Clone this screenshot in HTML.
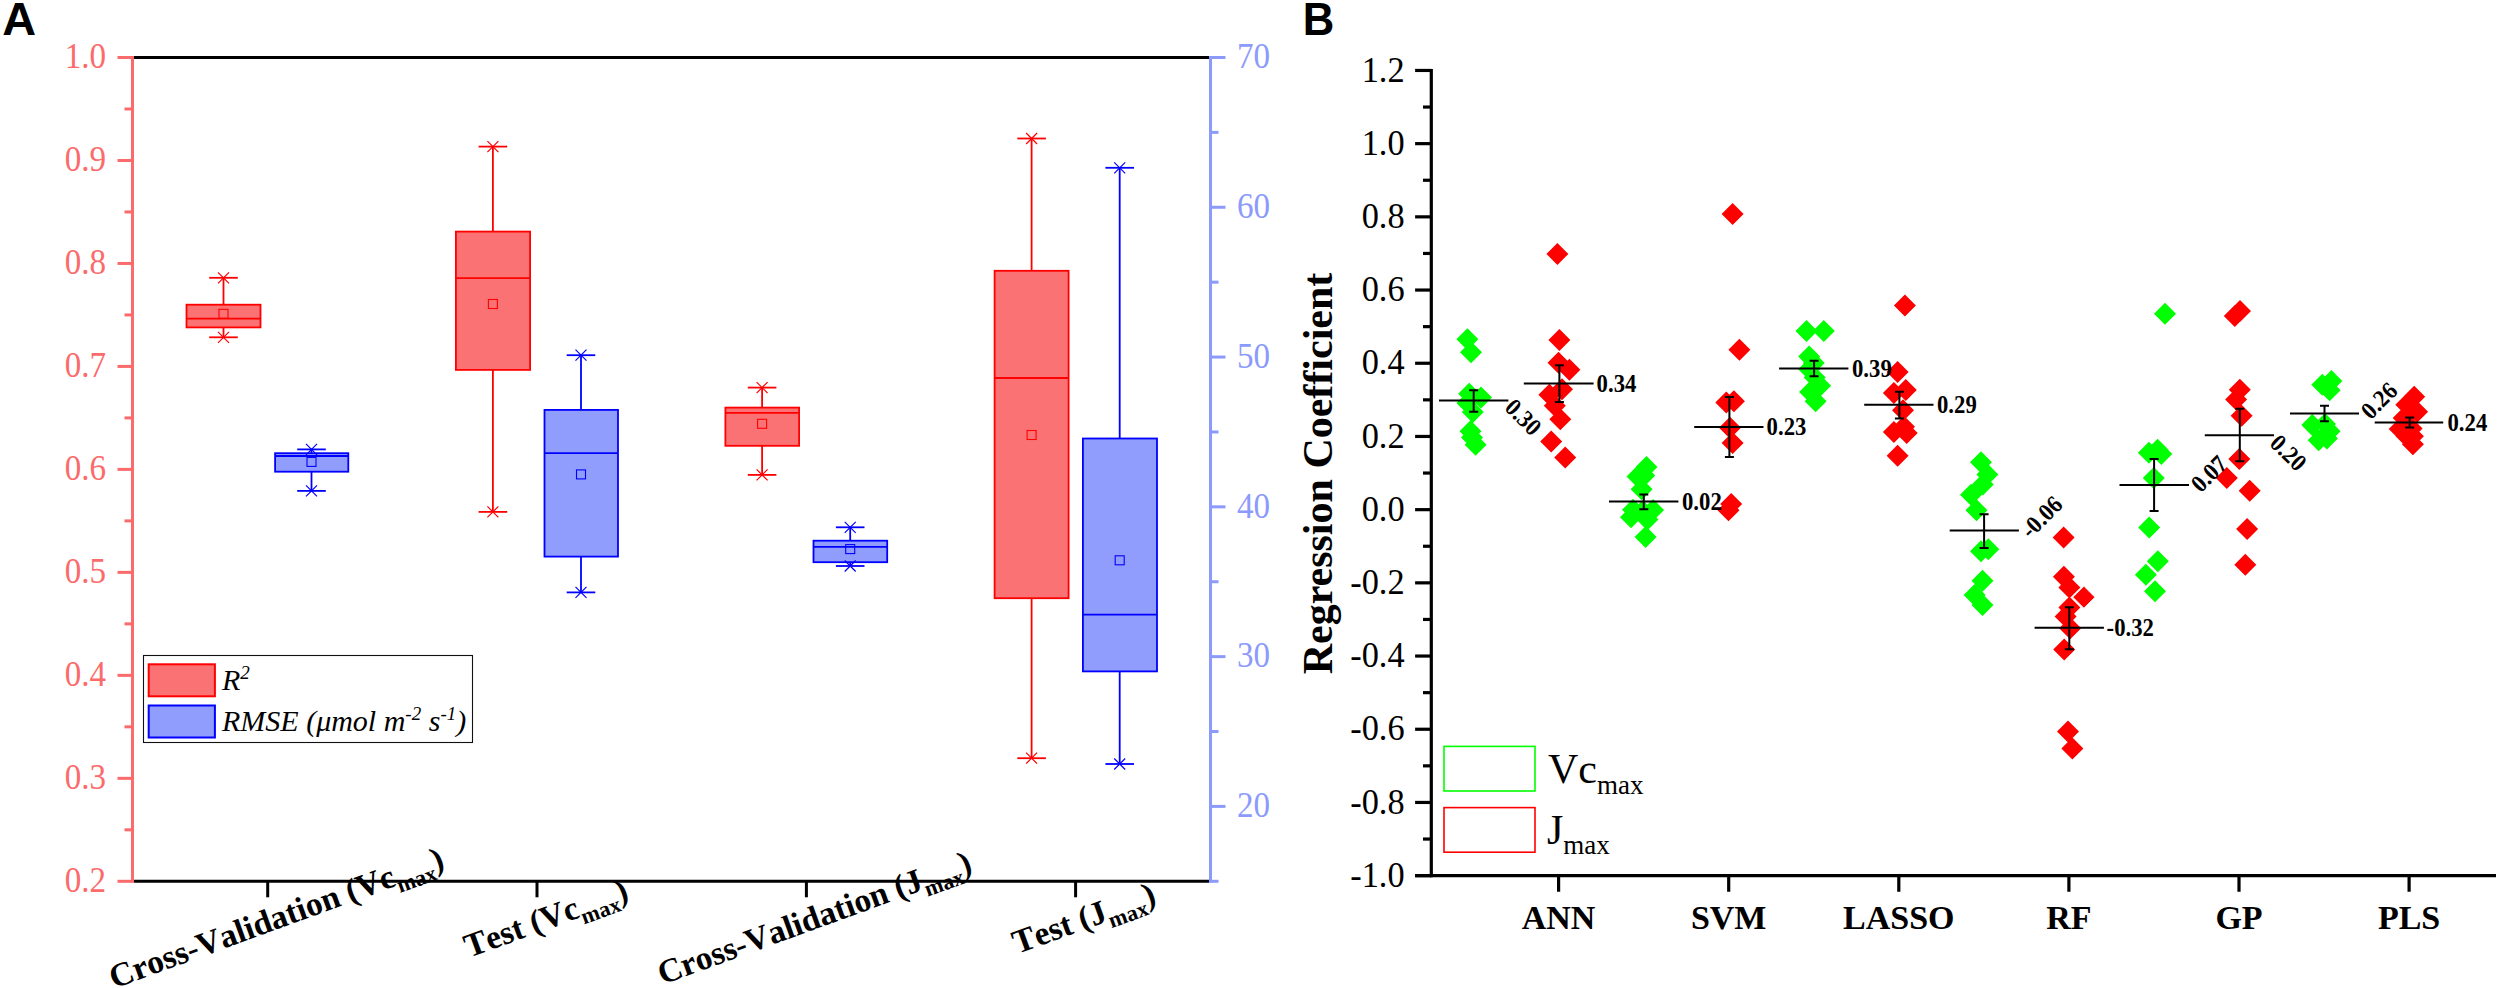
<!DOCTYPE html>
<html lang="en"><head><meta charset="utf-8"><title>Figure</title>
<style>html,body{margin:0;padding:0;background:#fff}svg{display:block}text{font-family:'Liberation Serif','Times New Roman',serif}.b{font-weight:bold}.i{font-style:italic}.sans{font-family:'Liberation Sans',Arial,sans-serif;font-weight:bold}</style></head><body>
<svg width="2500" height="988" viewBox="0 0 2500 988">
<rect width="2500" height="988" fill="#fff"/>
<text class="sans" transform="translate(2.2 34.9) scale(1.03 1)" font-size="45.5">A</text>
<line x1="134" y1="57.5" x2="1209" y2="57.5" stroke="#000" stroke-width="3"/>
<line x1="134" y1="881.3" x2="1209" y2="881.3" stroke="#000" stroke-width="3"/>
<line x1="267.7" y1="881.3" x2="267.7" y2="897.3" stroke="#000" stroke-width="3"/>
<line x1="537" y1="881.3" x2="537" y2="897.3" stroke="#000" stroke-width="3"/>
<line x1="806.4" y1="881.3" x2="806.4" y2="897.3" stroke="#000" stroke-width="3"/>
<line x1="1075.6" y1="881.3" x2="1075.6" y2="897.3" stroke="#000" stroke-width="3"/>
<g stroke="#FB6B6B" stroke-width="3" fill="none">
<line x1="132.5" y1="56" x2="132.5" y2="882.8"/>
<line x1="117.5" y1="57.5" x2="132.5" y2="57.5"/>
<line x1="124.5" y1="108.987" x2="132.5" y2="108.987"/>
<line x1="117.5" y1="160.475" x2="132.5" y2="160.475"/>
<line x1="124.5" y1="211.962" x2="132.5" y2="211.962"/>
<line x1="117.5" y1="263.45" x2="132.5" y2="263.45"/>
<line x1="124.5" y1="314.938" x2="132.5" y2="314.938"/>
<line x1="117.5" y1="366.425" x2="132.5" y2="366.425"/>
<line x1="124.5" y1="417.912" x2="132.5" y2="417.912"/>
<line x1="117.5" y1="469.4" x2="132.5" y2="469.4"/>
<line x1="124.5" y1="520.888" x2="132.5" y2="520.888"/>
<line x1="117.5" y1="572.375" x2="132.5" y2="572.375"/>
<line x1="124.5" y1="623.862" x2="132.5" y2="623.862"/>
<line x1="117.5" y1="675.35" x2="132.5" y2="675.35"/>
<line x1="124.5" y1="726.837" x2="132.5" y2="726.837"/>
<line x1="117.5" y1="778.325" x2="132.5" y2="778.325"/>
<line x1="124.5" y1="829.812" x2="132.5" y2="829.812"/>
<line x1="117.5" y1="881.3" x2="132.5" y2="881.3"/>
</g>
<g fill="#FB6B6B" font-size="35" text-anchor="end">
<text transform="translate(106 68.3) scale(0.946 1)">1.0</text>
<text transform="translate(106 171.275) scale(0.946 1)">0.9</text>
<text transform="translate(106 274.25) scale(0.946 1)">0.8</text>
<text transform="translate(106 377.225) scale(0.946 1)">0.7</text>
<text transform="translate(106 480.2) scale(0.946 1)">0.6</text>
<text transform="translate(106 583.175) scale(0.946 1)">0.5</text>
<text transform="translate(106 686.15) scale(0.946 1)">0.4</text>
<text transform="translate(106 789.125) scale(0.946 1)">0.3</text>
<text transform="translate(106 892.1) scale(0.946 1)">0.2</text>
</g>
<g stroke="#8C9BFB" stroke-width="3" fill="none">
<line x1="1210.5" y1="56" x2="1210.5" y2="882.8"/>
<line x1="1210.5" y1="57.5" x2="1225.5" y2="57.5"/>
<line x1="1210.5" y1="132.391" x2="1218.5" y2="132.391"/>
<line x1="1210.5" y1="207.282" x2="1225.5" y2="207.282"/>
<line x1="1210.5" y1="282.173" x2="1218.5" y2="282.173"/>
<line x1="1210.5" y1="357.064" x2="1225.5" y2="357.064"/>
<line x1="1210.5" y1="431.955" x2="1218.5" y2="431.955"/>
<line x1="1210.5" y1="506.845" x2="1225.5" y2="506.845"/>
<line x1="1210.5" y1="581.736" x2="1218.5" y2="581.736"/>
<line x1="1210.5" y1="656.627" x2="1225.5" y2="656.627"/>
<line x1="1210.5" y1="731.518" x2="1218.5" y2="731.518"/>
<line x1="1210.5" y1="806.409" x2="1225.5" y2="806.409"/>
<line x1="1210.5" y1="881.3" x2="1218.5" y2="881.3"/>
</g>
<g fill="#8C9BFB" font-size="35" text-anchor="start">
<text transform="translate(1237 68.3) scale(0.946 1)">70</text>
<text transform="translate(1237 218.082) scale(0.946 1)">60</text>
<text transform="translate(1237 367.864) scale(0.946 1)">50</text>
<text transform="translate(1237 517.645) scale(0.946 1)">40</text>
<text transform="translate(1237 667.427) scale(0.946 1)">30</text>
<text transform="translate(1237 817.209) scale(0.946 1)">20</text>
</g>
<g stroke="#FF0000" stroke-width="1.8" fill="none">
<line x1="223.5" y1="277.8" x2="223.5" y2="304.7"/>
<line x1="223.5" y1="327.4" x2="223.5" y2="337.3"/>
<rect x="186.5" y="304.7" width="74" height="22.7" fill="#FB7274"/>
<line x1="186.5" y1="318.6" x2="260.5" y2="318.6"/>
<line x1="209.2" y1="277.8" x2="237.8" y2="277.8"/>
<path d="M218 272.3l11 11M229 272.3l-11 11" stroke-width="1.2"/>
<line x1="209.2" y1="337.3" x2="237.8" y2="337.3"/>
<path d="M218 331.8l11 11M229 331.8l-11 11" stroke-width="1.2"/>
<rect x="219" y="309.3" width="9" height="9" stroke-width="1.1"/>
</g>
<g stroke="#0000FF" stroke-width="1.8" fill="none">
<line x1="311.5" y1="449.4" x2="311.5" y2="453.2"/>
<line x1="311.5" y1="471.7" x2="311.5" y2="490.9"/>
<rect x="275.1" y="453.2" width="73.2" height="18.5" fill="#919DFC"/>
<line x1="275.1" y1="456" x2="348.3" y2="456"/>
<line x1="297.2" y1="449.4" x2="325.8" y2="449.4"/>
<path d="M306 443.9l11 11M317 443.9l-11 11" stroke-width="1.2"/>
<line x1="297.2" y1="490.9" x2="325.8" y2="490.9"/>
<path d="M306 485.4l11 11M317 485.4l-11 11" stroke-width="1.2"/>
<rect x="307" y="457.4" width="9" height="9" stroke-width="1.1"/>
</g>
<g stroke="#FF0000" stroke-width="1.8" fill="none">
<line x1="492.9" y1="146.6" x2="492.9" y2="231.6"/>
<line x1="492.9" y1="369.9" x2="492.9" y2="511.9"/>
<rect x="455.9" y="231.6" width="74.2" height="138.3" fill="#FB7274"/>
<line x1="455.9" y1="278.2" x2="530.1" y2="278.2"/>
<line x1="478.6" y1="146.6" x2="507.2" y2="146.6"/>
<path d="M487.4 141.1l11 11M498.4 141.1l-11 11" stroke-width="1.2"/>
<line x1="478.6" y1="511.9" x2="507.2" y2="511.9"/>
<path d="M487.4 506.4l11 11M498.4 506.4l-11 11" stroke-width="1.2"/>
<rect x="488.4" y="299.5" width="9" height="9" stroke-width="1.1"/>
</g>
<g stroke="#0000FF" stroke-width="1.8" fill="none">
<line x1="581" y1="355.2" x2="581" y2="409.9"/>
<line x1="581" y1="556.6" x2="581" y2="592.4"/>
<rect x="544.5" y="409.9" width="73.5" height="146.7" fill="#919DFC"/>
<line x1="544.5" y1="453.1" x2="618" y2="453.1"/>
<line x1="566.7" y1="355.2" x2="595.3" y2="355.2"/>
<path d="M575.5 349.7l11 11M586.5 349.7l-11 11" stroke-width="1.2"/>
<line x1="566.7" y1="592.4" x2="595.3" y2="592.4"/>
<path d="M575.5 586.9l11 11M586.5 586.9l-11 11" stroke-width="1.2"/>
<rect x="576.5" y="469.9" width="9" height="9" stroke-width="1.1"/>
</g>
<g stroke="#FF0000" stroke-width="1.8" fill="none">
<line x1="762.1" y1="387.6" x2="762.1" y2="407.6"/>
<line x1="762.1" y1="445.8" x2="762.1" y2="474.9"/>
<rect x="725.4" y="407.6" width="73.7" height="38.2" fill="#FB7274"/>
<line x1="725.4" y1="412.9" x2="799.1" y2="412.9"/>
<line x1="747.8" y1="387.6" x2="776.4" y2="387.6"/>
<path d="M756.6 382.1l11 11M767.6 382.1l-11 11" stroke-width="1.2"/>
<line x1="747.8" y1="474.9" x2="776.4" y2="474.9"/>
<path d="M756.6 469.4l11 11M767.6 469.4l-11 11" stroke-width="1.2"/>
<rect x="757.6" y="419.3" width="9" height="9" stroke-width="1.1"/>
</g>
<g stroke="#0000FF" stroke-width="1.8" fill="none">
<line x1="850.2" y1="527.3" x2="850.2" y2="540.7"/>
<line x1="850.2" y1="562.2" x2="850.2" y2="566"/>
<rect x="813.5" y="540.7" width="73.7" height="21.5" fill="#919DFC"/>
<line x1="813.5" y1="546.8" x2="887.2" y2="546.8"/>
<line x1="835.9" y1="527.3" x2="864.5" y2="527.3"/>
<path d="M844.7 521.8l11 11M855.7 521.8l-11 11" stroke-width="1.2"/>
<line x1="835.9" y1="566" x2="864.5" y2="566"/>
<path d="M844.7 560.5l11 11M855.7 560.5l-11 11" stroke-width="1.2"/>
<rect x="845.7" y="544.6" width="9" height="9" stroke-width="1.1"/>
</g>
<g stroke="#FF0000" stroke-width="1.8" fill="none">
<line x1="1031.6" y1="138.5" x2="1031.6" y2="270.8"/>
<line x1="1031.6" y1="598.2" x2="1031.6" y2="758.2"/>
<rect x="994.6" y="270.8" width="74" height="327.4" fill="#FB7274"/>
<line x1="994.6" y1="378" x2="1068.6" y2="378"/>
<line x1="1017.3" y1="138.5" x2="1045.9" y2="138.5"/>
<path d="M1026.1 133l11 11M1037.1 133l-11 11" stroke-width="1.2"/>
<line x1="1017.3" y1="758.2" x2="1045.9" y2="758.2"/>
<path d="M1026.1 752.7l11 11M1037.1 752.7l-11 11" stroke-width="1.2"/>
<rect x="1027.1" y="430.5" width="9" height="9" stroke-width="1.1"/>
</g>
<g stroke="#0000FF" stroke-width="1.8" fill="none">
<line x1="1119.7" y1="167.8" x2="1119.7" y2="438.5"/>
<line x1="1119.7" y1="671.4" x2="1119.7" y2="764"/>
<rect x="1082.9" y="438.5" width="74.1" height="232.9" fill="#919DFC"/>
<line x1="1082.9" y1="614.7" x2="1157" y2="614.7"/>
<line x1="1105.4" y1="167.8" x2="1134" y2="167.8"/>
<path d="M1114.2 162.3l11 11M1125.2 162.3l-11 11" stroke-width="1.2"/>
<line x1="1105.4" y1="764" x2="1134" y2="764"/>
<path d="M1114.2 758.5l11 11M1125.2 758.5l-11 11" stroke-width="1.2"/>
<rect x="1115.2" y="555.8" width="9" height="9" stroke-width="1.1"/>
</g>
<rect x="143.5" y="655.5" width="329" height="87" fill="#fff" stroke="#111" stroke-width="1.1"/>
<rect x="148.7" y="664.3" width="66.2" height="32" fill="#FB7274" stroke="#FF0000" stroke-width="2"/>
<rect x="148.7" y="705.5" width="66.2" height="32" fill="#919DFC" stroke="#0000FF" stroke-width="2"/>
<text class="i" x="222" y="689.7" font-size="30">R<tspan dy="-11" font-size="19">2</tspan></text>
<text class="i" x="222" y="731" font-size="30">RMSE (μmol m<tspan dy="-11" font-size="19">-2</tspan><tspan dy="11"> s</tspan><tspan dy="-11" font-size="19">-1</tspan><tspan dy="11">)</tspan></text>
<text class="b" style="font-kerning:none" transform="translate(280 928.2) rotate(-20)" text-anchor="middle" font-size="33.4">Cross-Validation (Vc<tspan dy="8" font-size="22.2778">max</tspan><tspan dy="-8">)</tspan></text>
<text class="b" style="font-kerning:none" transform="translate(549.5 928.5) rotate(-20)" text-anchor="middle" font-size="33.4">Test (Vc<tspan dy="8" font-size="22.2778">max</tspan><tspan dy="-8">)</tspan></text>
<text class="b" style="font-kerning:none" transform="translate(818 928.2) rotate(-20)" text-anchor="middle" font-size="33.4">Cross-Validation (J<tspan dy="8" font-size="22.2778">max</tspan><tspan dy="-8">)</tspan></text>
<text class="b" style="font-kerning:none" transform="translate(1087.5 928.5) rotate(-20)" text-anchor="middle" font-size="33.4">Test (J<tspan dy="8" font-size="22.2778">max</tspan><tspan dy="-8">)</tspan></text>
<text class="sans" transform="translate(1302.8 34.9) scale(0.96 1)" font-size="45.5">B</text>
<g stroke="#000" stroke-width="3.2" fill="none">
<line x1="1431.3" y1="68.95" x2="1431.3" y2="877.15"/>
<line x1="1415.1" y1="875.65" x2="2496" y2="875.65"/>
<line x1="1415.1" y1="70.45" x2="1431.3" y2="70.45"/>
<line x1="1423" y1="107.05" x2="1431.3" y2="107.05"/>
<line x1="1415.1" y1="143.65" x2="1431.3" y2="143.65"/>
<line x1="1423" y1="180.25" x2="1431.3" y2="180.25"/>
<line x1="1415.1" y1="216.85" x2="1431.3" y2="216.85"/>
<line x1="1423" y1="253.45" x2="1431.3" y2="253.45"/>
<line x1="1415.1" y1="290.05" x2="1431.3" y2="290.05"/>
<line x1="1423" y1="326.65" x2="1431.3" y2="326.65"/>
<line x1="1415.1" y1="363.25" x2="1431.3" y2="363.25"/>
<line x1="1423" y1="399.85" x2="1431.3" y2="399.85"/>
<line x1="1415.1" y1="436.45" x2="1431.3" y2="436.45"/>
<line x1="1423" y1="473.05" x2="1431.3" y2="473.05"/>
<line x1="1415.1" y1="509.65" x2="1431.3" y2="509.65"/>
<line x1="1423" y1="546.25" x2="1431.3" y2="546.25"/>
<line x1="1415.1" y1="582.85" x2="1431.3" y2="582.85"/>
<line x1="1423" y1="619.45" x2="1431.3" y2="619.45"/>
<line x1="1415.1" y1="656.05" x2="1431.3" y2="656.05"/>
<line x1="1423" y1="692.65" x2="1431.3" y2="692.65"/>
<line x1="1415.1" y1="729.25" x2="1431.3" y2="729.25"/>
<line x1="1423" y1="765.85" x2="1431.3" y2="765.85"/>
<line x1="1415.1" y1="802.45" x2="1431.3" y2="802.45"/>
<line x1="1423" y1="839.05" x2="1431.3" y2="839.05"/>
<line x1="1415.1" y1="875.65" x2="1431.3" y2="875.65"/>
<line x1="1558.6" y1="875.65" x2="1558.6" y2="891.75"/>
<line x1="1728.7" y1="875.65" x2="1728.7" y2="891.75"/>
<line x1="1898.8" y1="875.65" x2="1898.8" y2="891.75"/>
<line x1="2068.9" y1="875.65" x2="2068.9" y2="891.75"/>
<line x1="2239" y1="875.65" x2="2239" y2="891.75"/>
<line x1="2409.1" y1="875.65" x2="2409.1" y2="891.75"/>
</g>
<g font-size="35.4" text-anchor="end">
<text transform="translate(1404.6 81.55) scale(0.97 1)">1.2</text>
<text transform="translate(1404.6 154.75) scale(0.97 1)">1.0</text>
<text transform="translate(1404.6 227.95) scale(0.97 1)">0.8</text>
<text transform="translate(1404.6 301.15) scale(0.97 1)">0.6</text>
<text transform="translate(1404.6 374.35) scale(0.97 1)">0.4</text>
<text transform="translate(1404.6 447.55) scale(0.97 1)">0.2</text>
<text transform="translate(1404.6 520.75) scale(0.97 1)">0.0</text>
<text transform="translate(1404.6 593.95) scale(0.97 1)">-0.2</text>
<text transform="translate(1404.6 667.15) scale(0.97 1)">-0.4</text>
<text transform="translate(1404.6 740.35) scale(0.97 1)">-0.6</text>
<text transform="translate(1404.6 813.55) scale(0.97 1)">-0.8</text>
<text transform="translate(1404.6 886.75) scale(0.97 1)">-1.0</text>
</g>
<g class="b" font-size="34" text-anchor="middle">
<text x="1558.6" y="929">ANN</text>
<text x="1728.7" y="929">SVM</text>
<text x="1898.8" y="929">LASSO</text>
<text x="2068.9" y="929">RF</text>
<text x="2239" y="929">GP</text>
<text x="2409.1" y="929">PLS</text>
</g>
<text class="b" transform="translate(1331.5 473.5) rotate(-90)" text-anchor="middle" font-size="42">Regression Coefficient</text>
<path d="M1467.4 328.2l11 11l-11 11l-11 -11zM1471 341.3l11 11l-11 11l-11 -11zM1469.2 382.8l11 11l-11 11l-11 -11zM1481 386.5l11 11l-11 11l-11 -11zM1467.4 392l11 11l-11 11l-11 -11zM1472.8 401l11 11l-11 11l-11 -11zM1470.5 420.2l11 11l-11 11l-11 -11zM1472 426.6l11 11l-11 11l-11 -11zM1475.6 433.8l11 11l-11 11l-11 -11z" fill="#00FF00"/>
<path d="M1557.4 242.9l11 11l-11 11l-11 -11zM1559.4 329l11 11l-11 11l-11 -11zM1558.5 351.8l11 11l-11 11l-11 -11zM1569.4 358.8l11 11l-11 11l-11 -11zM1562 378.3l11 11l-11 11l-11 -11zM1549.4 383.7l11 11l-11 11l-11 -11zM1554.8 394.7l11 11l-11 11l-11 -11zM1560.3 408.3l11 11l-11 11l-11 -11zM1551.2 430.6l11 11l-11 11l-11 -11zM1565.2 446.6l11 11l-11 11l-11 -11z" fill="#FF0000"/>
<path d="M1646.5 456l11 11l-11 11l-11 -11zM1637.5 465.5l11 11l-11 11l-11 -11zM1644.3 464.4l11 11l-11 11l-11 -11zM1641.6 478.3l11 11l-11 11l-11 -11zM1653.1 499.1l11 11l-11 11l-11 -11zM1633 498.8l11 11l-11 11l-11 -11zM1631 506.2l11 11l-11 11l-11 -11zM1642.8 500l11 11l-11 11l-11 -11zM1647.4 508.4l11 11l-11 11l-11 -11zM1645.6 526l11 11l-11 11l-11 -11z" fill="#00FF00"/>
<path d="M1732.6 202.9l11 11l-11 11l-11 -11zM1739.4 338.8l11 11l-11 11l-11 -11zM1726.3 391.5l11 11l-11 11l-11 -11zM1733.9 390.2l11 11l-11 11l-11 -11zM1730 416.8l11 11l-11 11l-11 -11zM1732.6 432l11 11l-11 11l-11 -11zM1731.2 492.9l11 11l-11 11l-11 -11zM1728.5 499.2l11 11l-11 11l-11 -11z" fill="#FF0000"/>
<path d="M1806.5 320l11 11l-11 11l-11 -11zM1823.8 320l11 11l-11 11l-11 -11zM1809.2 345.5l11 11l-11 11l-11 -11zM1813.8 351.9l11 11l-11 11l-11 -11zM1809.2 358.3l11 11l-11 11l-11 -11zM1814.7 366.5l11 11l-11 11l-11 -11zM1820.1 374.7l11 11l-11 11l-11 -11zM1810.1 381l11 11l-11 11l-11 -11zM1815.6 390.2l11 11l-11 11l-11 -11z" fill="#00FF00"/>
<path d="M1904.9 294.5l11 11l-11 11l-11 -11zM1897.6 361l11 11l-11 11l-11 -11zM1905.8 378.9l11 11l-11 11l-11 -11zM1893.9 382l11 11l-11 11l-11 -11zM1903 399.3l11 11l-11 11l-11 -11zM1904 415.7l11 11l-11 11l-11 -11zM1893.9 421.1l11 11l-11 11l-11 -11zM1906.7 422l11 11l-11 11l-11 -11zM1897.6 444.8l11 11l-11 11l-11 -11z" fill="#FF0000"/>
<path d="M1981 451.2l11 11l-11 11l-11 -11zM1987.4 463.6l11 11l-11 11l-11 -11zM1982.8 473.6l11 11l-11 11l-11 -11zM1971 483.7l11 11l-11 11l-11 -11zM1976.5 499.2l11 11l-11 11l-11 -11zM1981 540.2l11 11l-11 11l-11 -11zM1988.3 538.3l11 11l-11 11l-11 -11zM1982.5 569.7l11 11l-11 11l-11 -11zM1974.6 583.9l11 11l-11 11l-11 -11zM1982.5 593.9l11 11l-11 11l-11 -11z" fill="#00FF00"/>
<path d="M2063.6 526.5l11 11l-11 11l-11 -11zM2063.9 565.7l11 11l-11 11l-11 -11zM2069.4 576.5l11 11l-11 11l-11 -11zM2083.9 586.2l11 11l-11 11l-11 -11zM2069.4 596.5l11 11l-11 11l-11 -11zM2065.6 605.5l11 11l-11 11l-11 -11zM2070.2 617.3l11 11l-11 11l-11 -11zM2064.2 638.6l11 11l-11 11l-11 -11zM2068 720.6l11 11l-11 11l-11 -11zM2072.4 737.5l11 11l-11 11l-11 -11z" fill="#FF0000"/>
<path d="M2165 302.7l11 11l-11 11l-11 -11zM2148.9 441.8l11 11l-11 11l-11 -11zM2161.3 443l11 11l-11 11l-11 -11zM2157.6 438.8l11 11l-11 11l-11 -11zM2153.8 466.9l11 11l-11 11l-11 -11zM2149.2 516.5l11 11l-11 11l-11 -11zM2157.8 550.2l11 11l-11 11l-11 -11zM2145.9 563.8l11 11l-11 11l-11 -11zM2155 580.2l11 11l-11 11l-11 -11z" fill="#00FF00"/>
<path d="M2240 300l11 11l-11 11l-11 -11zM2234.8 305l11 11l-11 11l-11 -11zM2239.8 378.7l11 11l-11 11l-11 -11zM2236.1 388.4l11 11l-11 11l-11 -11zM2241.6 404.7l11 11l-11 11l-11 -11zM2239.3 448l11 11l-11 11l-11 -11zM2226.8 466.9l11 11l-11 11l-11 -11zM2249.7 479.8l11 11l-11 11l-11 -11zM2247.1 517.9l11 11l-11 11l-11 -11zM2245.3 553.7l11 11l-11 11l-11 -11z" fill="#FF0000"/>
<path d="M2331.4 370.1l11 11l-11 11l-11 -11zM2322.3 373.8l11 11l-11 11l-11 -11zM2329.6 379.2l11 11l-11 11l-11 -11zM2312.3 413.9l11 11l-11 11l-11 -11zM2325 413l11 11l-11 11l-11 -11zM2329.6 420.2l11 11l-11 11l-11 -11zM2318.7 429.3l11 11l-11 11l-11 -11zM2326.9 427.5l11 11l-11 11l-11 -11z" fill="#00FF00"/>
<path d="M2414.2 385.8l11 11l-11 11l-11 -11zM2406.3 393.7l11 11l-11 11l-11 -11zM2417.1 400.8l11 11l-11 11l-11 -11zM2406.3 425.1l11 11l-11 11l-11 -11zM2403.7 406.9l11 11l-11 11l-11 -11zM2411.6 417.4l11 11l-11 11l-11 -11zM2399.7 417.9l11 11l-11 11l-11 -11zM2412.9 425.3l11 11l-11 11l-11 -11zM2412.9 433.2l11 11l-11 11l-11 -11z" fill="#FF0000"/>
<path d="M2083.9 586.2l11 11l-11 11l-11 -11z" fill="#FF0000" stroke="#fff" stroke-width="0.9"/>
<path d="M1439 400.6H1508.4M1473.7 390.2V411.7M1469.2 390.2h9M1469.2 411.7h9" stroke="#000" stroke-width="2" fill="none"/>
<path d="M1523.8 383.4H1593.6M1559.4 365.2V402M1554.9 365.2h9M1554.9 402h9" stroke="#000" stroke-width="2" fill="none"/>
<path d="M1609 501.6H1678.4M1643.8 494.4V509.3M1639.3 494.4h9M1639.3 509.3h9" stroke="#000" stroke-width="2" fill="none"/>
<path d="M1694.2 427H1763.5M1729.4 396.9V457M1724.9 396.9h9M1724.9 457h9" stroke="#000" stroke-width="2" fill="none"/>
<path d="M1779.1 368.4H1848.4M1814.1 360.7V376.2M1809.6 360.7h9M1809.6 376.2h9" stroke="#000" stroke-width="2" fill="none"/>
<path d="M1864.2 404.8H1933.5M1899.4 391.7V418.5M1894.9 391.7h9M1894.9 418.5h9" stroke="#000" stroke-width="2" fill="none"/>
<path d="M1949.7 530.6H2018.9M1984.1 514.2V547.9M1979.6 514.2h9M1979.6 547.9h9" stroke="#000" stroke-width="2" fill="none"/>
<path d="M2034.6 627.7H2103.9M2069.3 607.3V649.2M2064.8 607.3h9M2064.8 649.2h9" stroke="#000" stroke-width="2" fill="none"/>
<path d="M2119.5 485H2189M2154.1 459.1V511.1M2149.6 459.1h9M2149.6 511.1h9" stroke="#000" stroke-width="2" fill="none"/>
<path d="M2204.8 435.3H2274M2239.8 408.8V461.3M2235.3 408.8h9M2235.3 461.3h9" stroke="#000" stroke-width="2" fill="none"/>
<path d="M2290 413.4H2359M2324.5 405.7V421.2M2320 405.7h9M2320 421.2h9" stroke="#000" stroke-width="2" fill="none"/>
<path d="M2374.7 422.4H2443.2M2409.7 417.4V427.4M2405.2 417.4h9M2405.2 427.4h9" stroke="#000" stroke-width="2" fill="none"/>
<text class="b" font-size="24.5" transform="translate(1509.3 403) rotate(45) scale(0.928 1)" x="0" y="8.2">0.30</text>
<text class="b" font-size="24.5" transform="translate(1596.6 383.4) rotate(0) scale(0.928 1)" x="0" y="8.2">0.34</text>
<text class="b" font-size="24.5" transform="translate(1682 501.6) rotate(0) scale(0.928 1)" x="0" y="8.2">0.02</text>
<text class="b" font-size="24.5" transform="translate(1766.6 427) rotate(0) scale(0.928 1)" x="0" y="8.2">0.23</text>
<text class="b" font-size="24.5" transform="translate(1852 368.4) rotate(0) scale(0.928 1)" x="0" y="8.2">0.39</text>
<text class="b" font-size="24.5" transform="translate(1937 404.8) rotate(0) scale(0.928 1)" x="0" y="8.2">0.29</text>
<text class="b" font-size="24.5" transform="translate(2024.7 533.7) rotate(-45) scale(0.928 1)" x="0" y="8.2">-0.06</text>
<text class="b" font-size="24.5" transform="translate(2106.6 627.7) rotate(0) scale(0.928 1)" x="0" y="8.2">-0.32</text>
<text class="b" font-size="24.5" transform="translate(2194.9 487.8) rotate(-45) scale(0.928 1)" x="0" y="8.2">0.07</text>
<text class="b" font-size="24.5" transform="translate(2274.4 438.6) rotate(45) scale(0.928 1)" x="0" y="8.2">0.20</text>
<text class="b" font-size="24.5" transform="translate(2365 414.6) rotate(-45) scale(0.928 1)" x="0" y="8.2">0.26</text>
<text class="b" font-size="24.5" transform="translate(2447.5 422.4) rotate(0) scale(0.928 1)" x="0" y="8.2">0.24</text>
<rect x="1444" y="746.4" width="91" height="44.6" fill="none" stroke="#00FF00" stroke-width="1.6"/>
<rect x="1444" y="807.6" width="91" height="44.6" fill="none" stroke="#FF0000" stroke-width="1.6"/>
<text x="1548" y="783" font-size="42">Vc<tspan dy="10.5" font-size="27">max</tspan></text>
<text x="1547" y="843.5" font-size="42">J<tspan dy="10.5" font-size="27">max</tspan></text>
</svg></body></html>
